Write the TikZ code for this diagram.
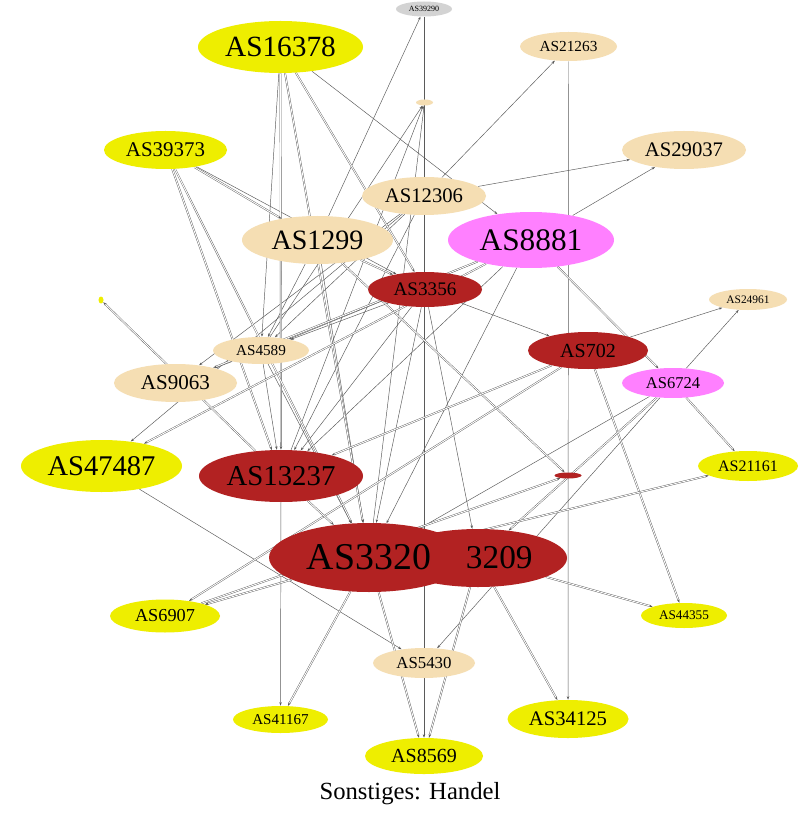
\documentclass[tikz,border=0pt]{standalone}
\usepackage{fontspec}
\setmainfont{Liberation Serif}
\usetikzlibrary{shapes.geometric,arrows.meta,backgrounds}
\definecolor{yel}{HTML}{EEEE00}
\definecolor{wht}{HTML}{F5DEB3}
\definecolor{fbr}{HTML}{B22222}
\definecolor{vio}{HTML}{FF80FF}
\definecolor{gry}{HTML}{D3D3D3}
\definecolor{edg}{HTML}{5A5A5A}
\begin{document}
\begin{tikzpicture}[x=0.75pt,y=-0.75pt,
  nd/.style={ellipse,inner sep=0pt,draw=none},
  sz/.style 2 args={minimum width=#1*1.5pt,minimum height=#2*1.5pt},
  fs/.style={font=\fontsize{#1}{#1}\selectfont},
  e/.style={draw=edg,line width=0.35pt,-{Stealth[length=2.6pt,width=1.8pt]}},
  d/.style={draw=edg,line width=0.3pt,double=white,double distance=0.7pt,shorten >=2.4pt}
]
\useasboundingbox (0,0) rectangle (800,830);
% nodes
\node[nd,fill=gry,sz={28}{7.5},fs=6] (n39290) at (424,9) {AS39290};
\node[nd,fill=yel,sz={82.5}{26},fs=22] (n16378) at (280.5,47) {AS16378};
\node[nd,fill=wht,sz={48.5}{14.5},fs=11.5] (n21263) at (568.5,46.5) {AS21263};
\node[nd,fill=wht,sz={8.5}{3}] (nw) at (424.5,102.5) {};
\node[nd,fill=yel,sz={61.5}{19},fs=15.7] (n39373) at (165.5,150) {AS39373};
\node[nd,fill=wht,sz={62}{19},fs=15.5] (n29037) at (684,150) {AS29037};
\node[nd,fill=wht,sz={62}{19},fs=15.5] (n12306) at (424,196) {AS12306};
\node[nd,fill=wht,sz={75.5}{24},fs=21] (n1299) at (317.5,240) {AS1299};
\node[nd,fill=vio,sz={83}{28},fs=23.5] (n8881) at (531,240) {AS8881};
\node[nd,fill=fbr,sz={57}{17.5},fs=14.4] (n3356) at (425,289.5) {AS3356};
\node[nd,fill=wht,sz={39}{10.5},fs=8.6] (n24961) at (748,299.5) {AS24961};
\node[nd,fill=yel,sz={2.5}{3.5}] (ny) at (101,300) {};
\node[nd,fill=wht,sz={48}{13.5},fs=11.4] (n4589) at (261,350.5) {AS4589};
\node[nd,fill=fbr,sz={60}{18.5},fs=15] (n702) at (588,350.5) {AS702};
\node[nd,fill=wht,sz={61.5}{19},fs=15.8] (n9063) at (175.5,383) {AS9063};
\node[nd,fill=vio,sz={51}{15},fs=12.4] (n6724) at (673,383) {AS6724};
\node[nd,fill=yel,sz={80.5}{26},fs=21.4] (n47487) at (101.5,466) {AS47487};
\node[nd,fill=fbr,sz={82}{26},fs=21.6] (n13237) at (281,476) {AS13237};
\node[nd,fill=fbr,sz={13.5}{3}] (nr) at (568,475.5) {};
\node[nd,fill=yel,sz={50}{15},fs=12] (n21161) at (748,466) {AS21161};
\node[nd,fill=fbr,sz={89}{29},fs=25] (n3209) at (478,558) {AS3209};
\node[nd,fill=fbr,sz={100}{34.5},fs=28.4] (n3320) at (369,557.5) {AS3320};
\node[nd,fill=yel,sz={55}{16.5},fs=13.7] (n6907) at (165,616) {AS6907};
\node[nd,fill=yel,sz={43}{12.5},fs=9.9] (n44355) at (684,615.5) {AS44355};
\node[nd,fill=wht,sz={51}{15},fs=12.6] (n5430) at (424,663) {AS5430};
\node[nd,fill=yel,sz={47.5}{13.5},fs=11.3] (n41167) at (280.5,719.5) {AS41167};
\node[nd,fill=yel,sz={60.5}{19},fs=15.5] (n34125) at (568,719) {AS34125};
\node[nd,fill=yel,sz={59}{18},fs=15] (n8569) at (424,756) {AS8569};
\node[inner sep=0pt,fs=18.5] (title) at (410,794) {Sonstiges: Handel};
% edges
\begin{scope}[on background layer]
\fill[white] (0,0) rectangle (800,830);
\foreach \a/\b in {n1299/n39290,n39290/n8569,n13237/nw,n4589/nw,n3320/nw,
  n12306/n21263,n21263/n34125,n12306/n29037,n8881/n29037,n16378/n8881,
  n39373/n3356,n1299/n4589,n1299/n3320,n12306/n4589,n12306/n9063,
  n8881/n4589,n12306/n47487,n3356/n702,n3356/n3320,n3356/n3209,
  n8881/n3320,n8881/n13237,n702/n24961,n6724/n24961,n6724/n5430,
  n16378/n4589,n47487/n5430,n13237/n41167,n3356/n4589,n3356/n13237,
  n12306/n13237,n4589/n9063,n4589/n13237,n4589/n3320,n6724/n3320,n3320/n6907}
  \draw[e] (\a) -- (\b);
\foreach \a/\b in {n16378/n13237,n16378/n3320,n16378/n3356,n39373/n13237,
  n39373/n3320,n39373/n1299,n1299/n3356,n1299/nr,n8881/n47487,n8881/n9063,
  n8881/n6724,n6724/n21161,n702/n44355,n702/n13237,n702/n6907,n6724/n3209,
  n3320/n21161,n6907/nr,n13237/n3320,n3320/n6907,n3320/n41167,n3320/n8569,
  n3209/n44355,n3209/n34125,n3209/n8569,n13237/ny}
  {\draw[e] (\a) -- (\b); \draw[d] (\a) -- (\b);}
\end{scope}
\end{tikzpicture}
\end{document}
